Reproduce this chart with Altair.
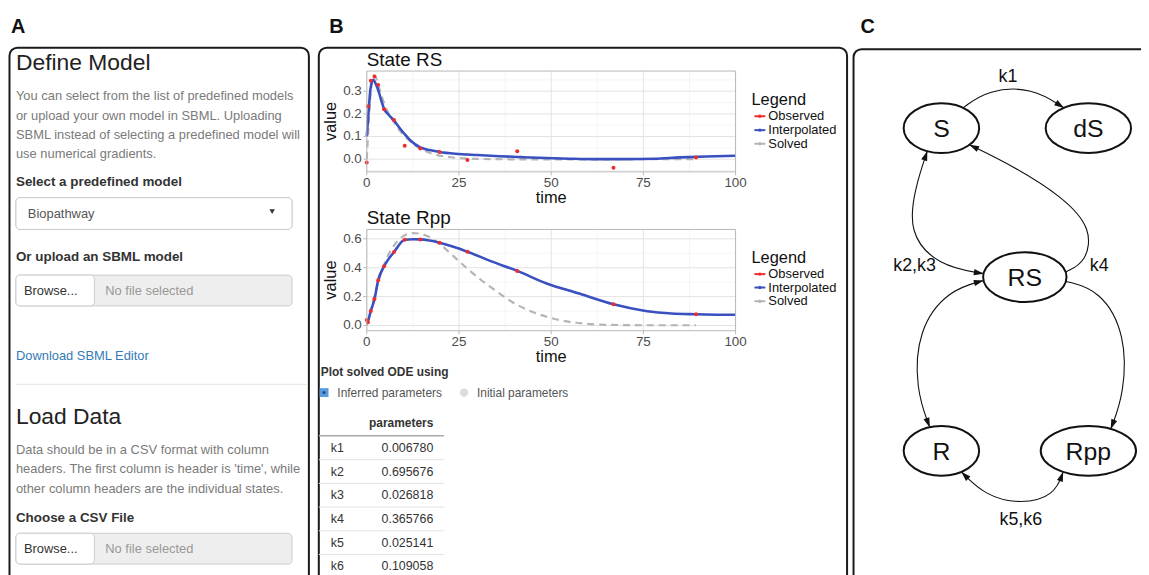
import math
import altair as alt
import pandas as pd

# ---------------- data ----------------
obs_time = [0, 0.3, 1.1, 2.1, 3.1, 4.7, 7.4, 10.3, 14.5, 19.7, 27.3, 40.8, 66.9, 89.3]
rs_observed = [-0.015, 0.234, 0.346, 0.365, 0.328, 0.220, 0.173, 0.059, 0.047, 0.032, -0.004, 0.035, -0.038, 0.007]
rpp_observed = [0.039, 0.023, 0.101, 0.183, 0.314, 0.410, 0.509, 0.594, 0.596, 0.573, 0.511, 0.378, 0.147, 0.078]

rs_interp_time = [0, 0.5, 1.0, 1.7, 2.5, 3.3, 4.0, 4.7, 6.0, 7.4, 8.8, 10.3, 12.0, 14.5, 17.0, 19.7,
                  24.0, 30.0, 36.0, 42.0, 48.6, 55.0, 62.0, 70.0, 78.0, 85.0, 92.0, 100.0]
rs_interp = [0.10, 0.21, 0.31, 0.350, 0.330, 0.295, 0.255, 0.222, 0.195, 0.170, 0.140, 0.110, 0.080, 0.052,
             0.040, 0.032, 0.024, 0.018, 0.013, 0.009, 0.005, 0.002, 0.0, 0.0, 0.002, 0.008, 0.012, 0.015]

rs_solved_time = [0, 0.5, 1.0, 1.5, 2.0, 2.5, 3.0, 4.0, 5.0, 6.0, 7.5, 9.0, 11.0, 13.0, 15.0, 17.0,
                  20.0, 24.0, 28.0, 35.0, 45.0, 60.0, 75.0, 89.3]
rs_solved = [0.0, 0.15, 0.28, 0.35, 0.37, 0.36, 0.335, 0.28, 0.235, 0.20, 0.16, 0.125, 0.09, 0.062,
             0.042, 0.028, 0.015, 0.006, 0.002, 0.0, -0.001, -0.001, 0.0, 0.0]

rpp_interp_time = [0, 0.3, 1.1, 2.1, 3.1, 4.7, 7.4, 10.3, 12.5, 14.5, 17.0, 19.7, 23.5, 27.3, 34.0,
                   40.8, 48.6, 57.6, 66.9, 75.6, 82.7, 89.3, 95.0, 100.0]
rpp_interp = [0.02, 0.03, 0.101, 0.183, 0.314, 0.410, 0.509, 0.594, 0.597, 0.596, 0.588, 0.573, 0.545,
              0.511, 0.442, 0.378, 0.293, 0.221, 0.147, 0.101, 0.083, 0.078, 0.075, 0.074]

rpp_solved_time = [0, 1, 2, 3, 4, 5, 6.5, 8, 10, 12.5, 15, 17.5, 20, 23.5, 27, 31, 35, 39, 43, 47,
                   51, 55, 59, 65, 75, 89.3]
rpp_solved = [0.0, 0.10, 0.20, 0.29, 0.37, 0.44, 0.52, 0.575, 0.62, 0.64, 0.632, 0.605, 0.56, 0.48,
              0.40, 0.315, 0.24, 0.17, 0.115, 0.075, 0.045, 0.025, 0.013, 0.005, 0.002, 0.002]

x_ticks = [0, 25, 50, 75, 100]
x_minor = [12.5, 37.5, 62.5, 87.5]
rs_y_ticks = [0.0, 0.1, 0.2, 0.3]
rs_y_minor = [-0.05, 0.05, 0.15, 0.25, 0.35]
rpp_y_ticks = [0.0, 0.2, 0.4, 0.6]
rpp_y_minor = [0.1, 0.3, 0.5]
legend_labels = ["Observed", "Interpolated", "Solved"]

param_names = ["k1", "k2", "k3", "k4", "k5", "k6"]
param_values = ["0.006780", "0.695676", "0.026818", "0.365766", "0.025141", "0.109058"]

node_names = ["S", "dS", "RS", "R", "Rpp"]
edge_labels = ["k1", "k2,k3", "k4", "k5,k6"]

# ---------------- styling / layout ----------------
FONT = "Liberation Sans"
OFF = 8  # page margin: image px -> chart px
W, H = 1149 - OFF, 575 - OFF
RED, BLUE, GREY = "#ee2c2c", "#3a4fc0", "#b5b5b5"
GRID, GRID_MINOR, BORDER, TICKTXT = "#e3e3e3", "#f3f3f3", "#b8b8b8", "#4d4d4d"
ONE = pd.DataFrame({"a": [0]})


def P(v):
    return v - OFF


def text_layer(rows, align="left", weight="normal", angle=0, baseline="middle"):
    df = pd.DataFrame(rows, columns=["text", "x", "y", "size", "color"])
    df["x"] = df["x"] - OFF
    df["y"] = df["y"] - OFF
    return alt.Chart(df).mark_text(align=align, baseline=baseline, fontWeight=weight,
                                   angle=angle, font=FONT).encode(
        x=alt.X("x:Q", scale=None, axis=None),
        y=alt.Y("y:Q", scale=None, axis=None),
        text=alt.Text("text:N"),
        size=alt.Size("size:Q", scale=None, legend=None),
        color=alt.Color("color:N", scale=None, legend=None),
    )


def rect_layer(rows, **kw):
    df = pd.DataFrame(rows, columns=["x", "y", "x2", "y2"]) - OFF
    return alt.Chart(df).mark_rect(**kw).encode(
        x=alt.X("x:Q", scale=None, axis=None), x2="x2:Q",
        y=alt.Y("y:Q", scale=None, axis=None), y2="y2:Q")


def rule_layer(rows, **kw):
    df = pd.DataFrame(rows, columns=["x", "y", "x2", "y2"]) - OFF
    return alt.Chart(df).mark_rule(**kw).encode(
        x=alt.X("x:Q", scale=None, axis=None), x2="x2:Q",
        y=alt.Y("y:Q", scale=None, axis=None), y2="y2:Q")


def point_layer(rows, **kw):
    df = pd.DataFrame(rows, columns=["x", "y"]) - OFF
    return alt.Chart(df).mark_point(**kw).encode(
        x=alt.X("x:Q", scale=None, axis=None), y=alt.Y("y:Q", scale=None, axis=None))


def fmt(v, d):
    return f"{v:.{d}f}"


def state_plot(name, t_obs, v_obs, t_int, v_int, t_sol, v_sol, box, ydom, yticks, yminor, legend_y):
    left, top, right, bottom = box
    xs = alt.Scale(domain=[0, 100], range=[P(left), P(right)], nice=False, zero=False)
    ys = alt.Scale(domain=ydom, range=[P(bottom), P(top)], nice=False, zero=False)

    def X(f):
        return alt.X(f, scale=xs, axis=None)

    def Y(f):
        return alt.Y(f, scale=ys, axis=None)

    xt = pd.DataFrame({"t": x_ticks, "lab": [str(t) for t in x_ticks]})
    yt = pd.DataFrame({"v": yticks, "lab": [fmt(v, 1) for v in yticks]})
    d_obs = pd.DataFrame({"time": t_obs, "value": v_obs})
    d_int = pd.DataFrame({"time": t_int, "value": v_int})
    d_sol = pd.DataFrame({"time": t_sol, "value": v_sol})

    layers = [
        alt.Chart(pd.DataFrame({"t": x_minor})).mark_rule(color=GRID_MINOR, strokeWidth=0.8).encode(
            x=X("t:Q"), y=alt.value(P(top)), y2=alt.value(P(bottom))),
        alt.Chart(pd.DataFrame({"v": yminor})).mark_rule(color=GRID_MINOR, strokeWidth=0.8).encode(
            y=Y("v:Q"), x=alt.value(P(left)), x2=alt.value(P(right))),
        alt.Chart(xt).mark_rule(color=GRID, strokeWidth=1).encode(
            x=X("t:Q"), y=alt.value(P(top)), y2=alt.value(P(bottom))),
        alt.Chart(yt).mark_rule(color=GRID, strokeWidth=1).encode(
            y=Y("v:Q"), x=alt.value(P(left)), x2=alt.value(P(right))),
        alt.Chart(d_sol).mark_line(color=GREY, strokeDash=[7, 5], strokeWidth=2.2,
                                   interpolate="monotone").encode(
            x=X("time:Q"), y=Y("value:Q"), order="time:Q"),
        alt.Chart(d_int).mark_line(color=BLUE, strokeWidth=2.6, interpolate="monotone").encode(
            x=X("time:Q"), y=Y("value:Q"), order="time:Q"),
        alt.Chart(d_obs).mark_point(filled=True, color=RED, size=16, opacity=1).encode(
            x=X("time:Q"), y=Y("value:Q")),
        alt.Chart(ONE).mark_rect(fillOpacity=0, stroke=BORDER, strokeWidth=1).encode(
            x=alt.value(P(left)), x2=alt.value(P(right)), y=alt.value(P(top)), y2=alt.value(P(bottom))),
        alt.Chart(xt).mark_rule(color=BORDER, strokeWidth=1).encode(
            x=X("t:Q"), y=alt.value(P(bottom)), y2=alt.value(P(bottom) + 3.5)),
        alt.Chart(yt).mark_rule(color=BORDER, strokeWidth=1).encode(
            y=Y("v:Q"), x=alt.value(P(left) - 3.5), x2=alt.value(P(left))),
        alt.Chart(xt).mark_text(font=FONT, fontSize=13.5, color=TICKTXT, baseline="middle").encode(
            x=X("t:Q"), y=alt.value(P(bottom) + 11), text="lab:N"),
        alt.Chart(yt).mark_text(font=FONT, fontSize=13.5, color=TICKTXT, align="right",
                                baseline="middle").encode(
            y=Y("v:Q"), x=alt.value(P(left) - 5), text="lab:N"),
    ]
    plot = alt.layer(*layers)

    cx = (left + right) / 2
    cy = (top + bottom) / 2
    titles = text_layer([("State " + name, left, top - 11.5, 19, "#111111")])
    xtitle = text_layer([("time", cx, bottom + 26, 16.5, "#111111")], align="center")
    ytitle = text_layer([("value", left - 36, cy, 16.5, "#111111")], align="center", angle=270)

    # legend
    lx = right + 16
    leg_txt = text_layer([("Legend", lx, legend_y[0], 16.5, "#111111")] +
                         [(lab, lx + 17, yy, 13, "#111111")
                          for lab, yy in zip(legend_labels, legend_y[1:])])
    key_cols = [RED, BLUE, GREY]
    keys = []
    for col, yy in zip(key_cols, legend_y[1:]):
        keys.append(rule_layer([(lx + 3, yy, lx + 14, yy)], color=col, strokeWidth=2))
        keys.append(point_layer([(lx + 8.5, yy)], filled=True, color=col, size=12, opacity=1))
    return alt.layer(plot, titles, xtitle, ytitle, leg_txt, *keys).resolve_scale(
        x="independent", y="independent")


rs_chart = state_plot("RS", obs_time, rs_observed, rs_interp_time, rs_interp, rs_solved_time,
                      rs_solved, (369.3, 69.5, 740.7, 171), [-0.056, 0.389], rs_y_ticks, rs_y_minor,
                      [99, 115, 129, 142.7])
rpp_chart = state_plot("Rpp", obs_time, rpp_observed, rpp_interp_time, rpp_interp, rpp_solved_time,
                       rpp_solved, (369.3, 229, 740.7, 331), [-0.036, 0.665], rpp_y_ticks, rpp_y_minor,
                       [257.7, 274, 287.5, 301.3])

# ---------------- frames & panel letters ----------------
frames = rect_layer([(9.5, 46, 311, 620), (321, 46, 853, 620), (859.5, 47.5, 1180, 620)],
                    fillOpacity=0, stroke="#1a1a1a", strokeWidth=2, cornerRadius=8)
letters = text_layer([("A", 11, 25.5, 20, "#111111"), ("B", 331.5, 25.5, 20, "#111111"),
                      ("C", 866.5, 25.5, 20, "#111111")], weight="bold")

# ---------------- panel A (web form) ----------------
GRAYTXT = "#7a7a7a"
a_inputs = rect_layer([(16, 197, 294, 229), (16, 275, 294, 306), (16, 535, 294, 566)],
                      fill="#eeeeee", stroke="#cccccc", strokeWidth=1, cornerRadius=4)
a_dropdown = rect_layer([(16, 197, 294, 229)], fill="white", stroke="#cccccc", strokeWidth=1,
                        cornerRadius=4)
a_buttons = rect_layer([(16, 275, 95, 306), (16, 535, 95, 566)], fill="white", stroke="#cccccc",
                       strokeWidth=1, cornerRadius=4)
a_hr = rule_layer([(16, 385, 310, 385)], color="#e5e5e5", strokeWidth=1)
a_caret = point_layer([(274, 211)], shape="triangle-down", filled=True, color="#333333", size=30,
                      opacity=1)
a_text = text_layer([
    ("Define Model", 16, 61, 23, "#222222"),
    ("You can select from the list of predefined models", 16, 95, 13, GRAYTXT),
    ("or upload your own model in SBML. Uploading", 16, 114.5, 13, GRAYTXT),
    ("SBML instead of selecting a predefined model will", 16, 134, 13, GRAYTXT),
    ("use numerical gradients.", 16, 153.5, 13, GRAYTXT),
    ("Biopathway", 28, 213, 13, "#555555"),
    ("Browse...", 24, 291, 13, "#333333"),
    ("No file selected", 106, 291, 13, "#999999"),
    ("Download SBML Editor", 16, 356.7, 13, "#337ab7"),
    ("Load Data", 16, 418.3, 23, "#222222"),
    ("Data should be in a CSV format with column", 16, 450.7, 13, GRAYTXT),
    ("headers. The first column is header is 'time', while", 16, 470.3, 13, GRAYTXT),
    ("other column headers are the individual states.", 16, 490, 13, GRAYTXT),
    ("Browse...", 24, 550.5, 13, "#333333"),
    ("No file selected", 106, 550.5, 13, "#999999"),
])
a_bold = text_layer([
    ("Select a predefined model", 16, 181.7, 13.5, "#333333"),
    ("Or upload an SBML model", 16, 256.7, 13.5, "#333333"),
    ("Choose a CSV File", 16, 519.3, 13.5, "#333333"),
], weight="bold")

# ---------------- panel B bottom (options + table) ----------------
b_radio1 = point_layer([(326.3, 393.3)], shape="square", filled=True, color="#5a9be0", size=80,
                       opacity=1)
b_radio1c = point_layer([(326.3, 393.3)], shape="circle", filled=True, color="#24507f", size=10,
                        opacity=1)
b_radio2 = point_layer([(467.3, 393.3)], shape="circle", filled=True, color="#dcdcdc", size=70,
                       opacity=1)
b_opts = text_layer([("Inferred parameters", 339.7, 393.3, 12, "#555555"),
                     ("Initial parameters", 480.3, 393.3, 12, "#555555")])
b_head = text_layer([("Plot solved ODE using", 323, 372.7, 12, "#333333")], weight="bold")
b_colhead = text_layer([("parameters", 436.3, 424.3, 12, "#333333")], weight="bold", align="right")
row_y = [449 + 23.85 * i for i in range(len(param_names))]
b_hline = rule_layer([(321, 436.7, 447, 436.7)], color="#aaaaaa", strokeWidth=1.5)
b_rowlines = rule_layer([(321, y + 11.9, 447, y + 11.9) for y in row_y[:-1]], color="#e2e2e2",
                        strokeWidth=1)
b_names = text_layer([(n, 333, y, 12.5, "#333333") for n, y in zip(param_names, row_y)])
b_vals = text_layer([(v, 436.3, y, 12.5, "#333333") for v, y in zip(param_values, row_y)],
                    align="right")

# ---------------- panel C (reaction graph) ----------------
node_pos = {"S": (948, 127, 76, 50), "dS": (1096, 127, 86, 50), "RS": (1032, 277, 84, 50),
            "R": (948, 452, 76, 50), "Rpp": (1096, 452, 96, 50)}


def ellipse_path(ry):
    k = 0.5523
    return (f"M1,0 C1,{k*ry:.4f} {k:.4f},{ry:.4f} 0,{ry:.4f} "
            f"C{-k:.4f},{ry:.4f} -1,{k*ry:.4f} -1,0 "
            f"C-1,{-k*ry:.4f} {-k:.4f},{-ry:.4f} 0,{-ry:.4f} "
            f"C{k:.4f},{-ry:.4f} 1,{-k*ry:.4f} 1,0 Z")


def on_node(n, deg):
    cx, cy, w, h = node_pos[n]
    a = math.radians(deg)
    return (cx + w / 2 * math.cos(a), cy + h / 2 * math.sin(a))


node_layers = []
for n in node_names:
    cx, cy, w, h = node_pos[n]
    node_layers.append(point_layer([(cx, cy)], shape=ellipse_path(h / w), filled=False,
                                   color="#111111", strokeWidth=2, size=w * w, opacity=1))
node_text = text_layer([(n, node_pos[n][0], node_pos[n][1] + 1, 25, "#111111") for n in node_names],
                       align="center")

edges = [
    # (control points, arrow at start, arrow at end)
    ([on_node("S", -55), (995, 88), (1040, 86), on_node("dS", -125)], False, True),
    ([on_node("S", 112), (922, 185), (914, 232), (945, 266), on_node("RS", 188)], True, True),
    ([on_node("RS", -12), (1094, 262), (1100, 228), (1070, 196), (1020, 165), on_node("S", 42)],
     False, True),
    ([on_node("RS", 172), (955, 290), (924, 330), (922, 390), on_node("R", -108)], True, True),
    ([on_node("RS", 10), (1108, 290), (1134, 335), (1132, 395), on_node("Rpp", -62)], False, True),
    ([on_node("R", 58), (992, 497), (1028, 506), (1062, 497), on_node("Rpp", 122)], True, True),
]
edge_rows, arrow_rows = [], []
for e, (pts, a0, a1) in enumerate(edges):
    for i, (x, y) in enumerate(pts):
        edge_rows.append({"edge": e, "i": i, "x": x - OFF, "y": y - OFF})
    ends = []
    if a0:
        ends.append((pts[0], pts[1]))
    if a1:
        ends.append((pts[-1], pts[-2]))
    for tip, prev in ends:
        dx, dy = tip[0] - prev[0], tip[1] - prev[1]
        L = math.hypot(dx, dy)
        dx, dy = dx / L, dy / L
        ang = math.degrees(math.atan2(dx, -dy)) % 360
        arrow_rows.append({"x": tip[0] - dx * 5 - OFF, "y": tip[1] - dy * 5 - OFF, "ang": ang})

edge_layer = alt.Chart(pd.DataFrame(edge_rows)).mark_line(
    interpolate="basis", color="#111111", strokeWidth=1.1).encode(
    x=alt.X("x:Q", scale=None, axis=None), y=alt.Y("y:Q", scale=None, axis=None),
    detail="edge:N", order="i:Q")
arrow_layer = alt.Chart(pd.DataFrame(arrow_rows)).mark_point(
    shape="M0,-1 L0.6,0.9 L-0.6,0.9 Z", filled=True, color="#111111", size=110, opacity=1).encode(
    x=alt.X("x:Q", scale=None, axis=None), y=alt.Y("y:Q", scale=None, axis=None),
    angle=alt.Angle("ang:Q", scale=None))
edge_text = text_layer([
    (edge_labels[0], 1015, 76, 18, "#111111"),
    (edge_labels[1], 921, 266, 18, "#111111"),
    (edge_labels[2], 1107, 266, 18, "#111111"),
    (edge_labels[3], 1028, 522, 18, "#111111"),
], align="center")

chart = alt.layer(
    frames, letters,
    a_inputs, a_dropdown, a_buttons, a_hr, a_caret, a_text, a_bold,
    rs_chart, rpp_chart,
    b_radio1, b_radio1c, b_radio2, b_opts, b_head, b_colhead, b_hline, b_rowlines, b_names, b_vals,
    edge_layer, arrow_layer, *node_layers, node_text, edge_text,
).resolve_scale(x="independent", y="independent").properties(
    width=W, height=H, autosize=alt.AutoSizeParams(type="none"), padding=0,
    background="white",
).configure_view(stroke=None)

chart.save("out.html", embed_options={"renderer": "svg", "actions": False})
